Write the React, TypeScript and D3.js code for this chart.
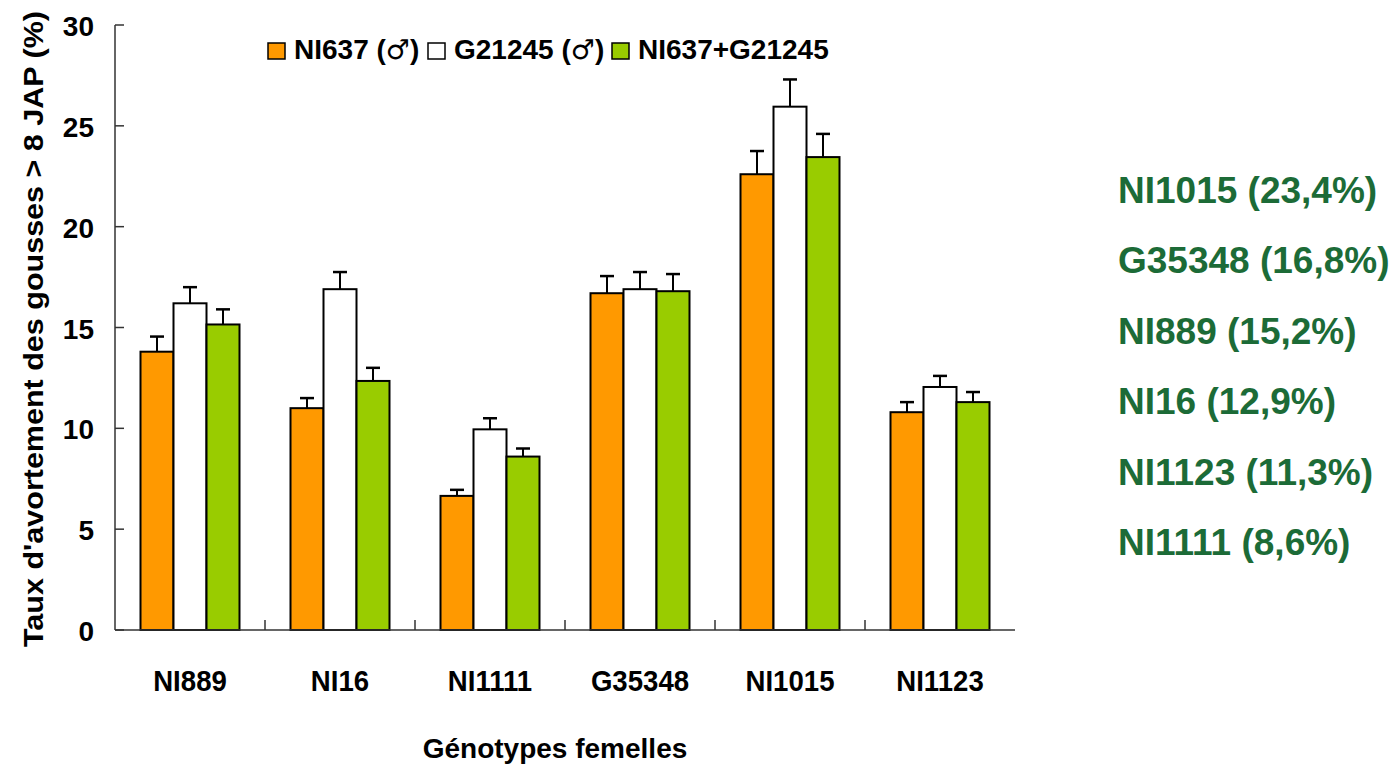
import * as d3 from "d3";
import { useEffect, useRef } from "react";

const genotypes = ["NI889", "NI16", "NI1111", "G35348", "NI1015", "NI1123"];
const seriesNames = ["NI637", "G21245", "NI637+G21245"];
const seriesMale = [true, true, false];
const seriesColors = ["#FF9900", "#FFFFFF", "#99CC00"];
const ni637 = [13.8, 11.0, 6.65, 16.7, 22.6, 10.8];
const g21245 = [16.2, 16.9, 9.95, 16.9, 25.95, 12.05];
const mixed = [15.15, 12.35, 8.6, 16.8, 23.45, 11.3];
const ni637Err = [0.75, 0.5, 0.3, 0.85, 1.15, 0.5];
const g21245Err = [0.8, 0.85, 0.55, 0.85, 1.35, 0.55];
const mixedErr = [0.75, 0.65, 0.4, 0.85, 1.15, 0.5];
const yTicks = [0, 5, 10, 15, 20, 25, 30];
const rankLabels = [
  "NI1015 (23,4%)",
  "G35348 (16,8%)",
  "NI889 (15,2%)",
  "NI16 (12,9%)",
  "NI1123 (11,3%)",
  "NI1111 (8,6%)",
];

const W = 1395;
const H = 770;
const margin = { left: 115, top: 25, right: 380, bottom: 140 };
const FONT = "'Liberation Sans', Arial, sans-serif";

const App = () => {
  const svgRef = useRef<SVGSVGElement | null>(null);

  useEffect(() => {
    const svg = d3.select(svgRef.current);
    svg.selectAll("*").remove();

    const x0 = margin.left;
    const x1 = W - margin.right;
    const y0 = H - margin.bottom;

    const xScale = d3.scaleBand().domain(genotypes).range([x0, x1]);
    const yScale = d3.scaleLinear().domain([0, 30]).range([y0, margin.top]);
    const inner = d3.scaleBand().domain(seriesNames).range([0, 99]).padding(0);

    const values = [ni637, g21245, mixed];
    const errs = [ni637Err, g21245Err, mixedErr];
    const bars = genotypes.flatMap((g, i) =>
      seriesNames.map((s, j) => ({ g, s, j, v: values[j][i], e: errs[j][i] }))
    );

    const plot = svg.append("g");
    const off = (xScale.bandwidth() - 99) / 2;
    const barX = (d) => (xScale(d.g) as number) + off + (inner(d.s) as number);

    // error bars (drawn under the bars)
    plot
      .selectAll(".err")
      .data(bars)
      .join("g")
      .attr("class", "err")
      .each(function (d) {
        const cx = barX(d) + inner.bandwidth() / 2;
        const g = d3.select(this);
        g.append("line")
          .attr("x1", cx)
          .attr("x2", cx)
          .attr("y1", yScale(d.v))
          .attr("y2", yScale(d.v + d.e))
          .attr("stroke", "#000")
          .attr("stroke-width", 2);
        g.append("line")
          .attr("x1", cx - 7)
          .attr("x2", cx + 7)
          .attr("y1", yScale(d.v + d.e))
          .attr("y2", yScale(d.v + d.e))
          .attr("stroke", "#000")
          .attr("stroke-width", 2.5);
      });

    plot
      .selectAll("rect.bar")
      .data(bars)
      .join("rect")
      .attr("class", "bar")
      .attr("x", barX)
      .attr("y", (d) => yScale(d.v))
      .attr("width", inner.bandwidth())
      .attr("height", (d) => y0 - yScale(d.v))
      .attr("fill", (d) => seriesColors[d.j])
      .attr("stroke", "#000")
      .attr("stroke-width", 2);

    // axes
    const axisColor = "#333";
    svg
      .append("line")
      .attr("x1", x0)
      .attr("x2", x0)
      .attr("y1", margin.top)
      .attr("y2", y0)
      .attr("stroke", axisColor)
      .attr("stroke-width", 1.5);
    svg
      .append("line")
      .attr("x1", x0)
      .attr("x2", x1)
      .attr("y1", y0)
      .attr("y2", y0)
      .attr("stroke", axisColor)
      .attr("stroke-width", 1.5);

    svg
      .selectAll(".ytick")
      .data(yTicks)
      .join("line")
      .attr("x1", x0)
      .attr("x2", x0 + 9)
      .attr("y1", (d) => yScale(d))
      .attr("y2", (d) => yScale(d))
      .attr("stroke", axisColor)
      .attr("stroke-width", 1.5);

    svg
      .selectAll(".ylabel")
      .data(yTicks)
      .join("text")
      .attr("x", 94)
      .attr("y", (d) => yScale(d) + 11)
      .attr("text-anchor", "end")
      .attr("font-family", FONT)
      .attr("font-weight", "bold")
      .attr("font-size", 28)
      .text((d) => d);

    svg
      .selectAll(".xtick")
      .data(genotypes.slice(1))
      .join("line")
      .attr("x1", (d) => xScale(d) as number)
      .attr("x2", (d) => xScale(d) as number)
      .attr("y1", y0)
      .attr("y2", y0 - 10)
      .attr("stroke", axisColor)
      .attr("stroke-width", 1.5);

    svg
      .selectAll(".xlabel")
      .data(genotypes)
      .join("text")
      .attr(
        "transform",
        (d) => `translate(${(xScale(d) as number) + xScale.bandwidth() / 2}, 691) scale(0.92, 1)`
      )
      .attr("text-anchor", "middle")
      .attr("font-family", FONT)
      .attr("font-weight", "bold")
      .attr("font-size", 30)
      .text((d) => d);

    svg
      .append("text")
      .attr("x", 555)
      .attr("y", 758)
      .attr("text-anchor", "middle")
      .attr("font-family", FONT)
      .attr("font-weight", "bold")
      .attr("font-size", 28)
      .text("Génotypes femelles");

    svg
      .append("text")
      .attr("transform", `translate(43, 329) rotate(-90)`)
      .attr("text-anchor", "middle")
      .attr("font-family", FONT)
      .attr("font-weight", "bold")
      .attr("font-size", 28)
      .attr("textLength", 636)
      .attr("lengthAdjust", "spacingAndGlyphs")
      .text("Taux d'avortement des gousses > 8 JAP (%)");

    // legend
    const legendX = [268, 428, 612];
    const legend = svg
      .selectAll(".legend")
      .data(seriesNames)
      .join("g")
      .attr("transform", (_, i) => `translate(${legendX[i]}, 0)`);
    legend
      .append("rect")
      .attr("x", 0)
      .attr("y", 43)
      .attr("width", 17)
      .attr("height", 16)
      .attr("fill", (_, i) => seriesColors[i])
      .attr("stroke", "#000")
      .attr("stroke-width", 1.5);
    const lt = legend
      .append("text")
      .attr("x", 26)
      .attr("y", 59)
      .attr("font-family", FONT)
      .attr("font-weight", "bold")
      .attr("font-size", 28);
    lt.append("tspan").text((d) => d);
    lt.filter((_, i) => seriesMale[i])
      .append("tspan")
      .text(" (");
    lt.filter((_, i) => seriesMale[i])
      .append("tspan")
      .attr("font-family", "'DejaVu Sans', sans-serif")
      .attr("font-weight", "normal")
      .attr("font-size", 27)
      .text("♂");
    lt.filter((_, i) => seriesMale[i])
      .append("tspan")
      .text(")");

    // ranking text
    svg
      .selectAll(".rank")
      .data(rankLabels)
      .join("text")
      .attr("x", 1118)
      .attr("y", (_, i) => 203 + i * 70.4)
      .attr("font-family", FONT)
      .attr("font-weight", "bold")
      .attr("font-size", 37)
      .attr("fill", "#1C6B37")
      .text((d) => d);
  }, []);

  return (
    <svg
      ref={svgRef}
      width={W}
      height={H}
      style={{ position: "absolute", left: 0, top: 0, background: "#fff" }}
    />
  );
};

export default App;
